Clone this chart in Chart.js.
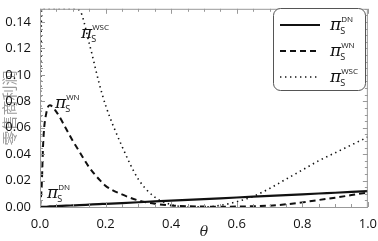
<!DOCTYPE html>
<html>
<head>
<meta charset="utf-8">
<script src="https://cdn.jsdelivr.net/npm/chart.js@4"></script>
<style>
  html, body { margin: 0; padding: 0; background: #fff; }
  #wrap { width: 378px; height: 241px; }
</style>
</head>
<body>
<div id="wrap"><canvas id="profitChart"></canvas></div>
<script>
// theta values and retailer profit curves
const theta = [0, 0.005, 0.01, 0.02, 0.03, 0.05, 0.08, 0.1, 0.12, 0.15, 0.18, 0.2, 0.25, 0.3, 0.35, 0.4,
    0.45, 0.5, 0.55, 0.6, 0.65, 0.7, 0.75, 0.8, 0.85, 0.9, 0.95, 1.0];
const profitDN = [0, 0.0001, 0.0001, 0.0002, 0.0004, 0.0006, 0.001, 0.0012, 0.0014, 0.0018, 0.0022, 0.0024,
    0.003, 0.0036, 0.0042, 0.0048, 0.0054, 0.006, 0.0066, 0.0072, 0.0078, 0.0084, 0.009, 0.0096, 0.0102,
    0.0108, 0.0114, 0.012];
const profitWN = [0, 0.015, 0.05, 0.072, 0.077, 0.072, 0.059, 0.05, 0.042, 0.03, 0.021, 0.016, 0.0095,
    0.005, 0.0025, 0.0012, 0.0006, 0.0003, 0.0002, 0.0003, 0.0006, 0.001, 0.002, 0.0035, 0.0053, 0.007,
    0.009, 0.011];
// WSC runs along the top of the frame (0.15) before it falls
const profitWSC = [0, 0.15, 0.15, 0.15, 0.15, 0.15, 0.15, 0.15, 0.149, 0.124, 0.094, 0.077, 0.046, 0.021,
    0.0075, 0.0018, 0.0002, 0.0001, 0.0012, 0.004, 0.008, 0.014, 0.021, 0.028, 0.035, 0.041, 0.047, 0.053];
const xTicks = [0, 0.2, 0.4, 0.6, 0.8, 1.0];
const yTicks = [0, 0.02, 0.04, 0.06, 0.08, 0.10, 0.12, 0.14];

const seriesNames = ['DN', 'WN', 'WSC'];
const dashes = [[], [6, 4], [1.4, 3.6]];
const widths = [2.2, 2, 1.6];

function pts(ys) {
    return theta.map((t, i) => ({ x: t, y: ys[i] }));
}

// draws pi_S^X as canvas text
function drawPi(ctx, x, y, sup) {
    ctx.save();
    ctx.fillStyle = '#111';
    ctx.textBaseline = 'alphabetic';
    ctx.textAlign = 'left';
    ctx.font = 'italic 17px "DejaVu Serif"';
    ctx.fillText('π', x, y);
    const w = ctx.measureText('π').width;
    ctx.font = '9px "Open Sans"';
    ctx.fillText('S', x + w - 1, y + 4);
    ctx.font = '8px "Open Sans"';
    ctx.fillText(sup, x + w, y - 8);
    ctx.restore();
}

const framePlugin = {
    id: 'frame',
    afterDatasetsDraw(chart) {
        const { ctx, chartArea: a, scales } = chart;
        ctx.save();
        ctx.strokeStyle = '#999';
        ctx.lineWidth = 1;
        ctx.strokeRect(a.left + 0.5, a.top + 0.5, a.right - a.left - 1, a.bottom - a.top);
        ctx.beginPath();
        for (let v = 0; v <= 1.0001; v += 0.05) {
            const px = Math.round(scales.x.getPixelForValue(v)) + 0.5;
            const len = Math.abs(v * 5 - Math.round(v * 5)) < 1e-6 ? 5 : 3;
            ctx.moveTo(px, a.bottom); ctx.lineTo(px, a.bottom - len);
            ctx.moveTo(px, a.top); ctx.lineTo(px, a.top + len);
        }
        for (let v = 0; v <= 0.1501; v += 0.005) {
            const py = Math.round(scales.y.getPixelForValue(v)) + 0.5;
            const len = Math.abs(v * 50 - Math.round(v * 50)) < 1e-6 ? 5 : 3;
            ctx.moveTo(a.left, py); ctx.lineTo(a.left + len, py);
            ctx.moveTo(a.right, py); ctx.lineTo(a.right - len, py);
        }
        ctx.stroke();
        ctx.restore();

        // curve labels
        drawPi(ctx, 81, 38, 'WSC');
        drawPi(ctx, 55, 108, 'WN');
        drawPi(ctx, 47, 198, 'DN');

        // legend box
        ctx.save();
        ctx.fillStyle = '#fff';
        ctx.strokeStyle = '#555';
        ctx.lineWidth = 1;
        ctx.beginPath();
        ctx.roundRect(273.5, 8.5, 92, 82, 7);
        ctx.fill();
        ctx.stroke();
        const rows = [25, 51, 77];
        rows.forEach((ry, i) => {
            ctx.beginPath();
            ctx.setLineDash(dashes[i]);
            ctx.lineWidth = widths[i];
            ctx.strokeStyle = '#111';
            ctx.moveTo(280, ry);
            ctx.lineTo(320, ry);
            ctx.stroke();
            ctx.setLineDash([]);
            drawPi(ctx, 330, ry + 5, seriesNames[i]);
        });
        ctx.restore();
    }
};

const ctxProfit = document.getElementById('profitChart');
new Chart(ctxProfit, {
    type: 'line',
    data: {
        datasets: [
            { label: 'DN', data: pts(profitDN) },
            { label: 'WN', data: pts(profitWN) },
            { label: 'WSC', data: pts(profitWSC) }
        ].map((d, i) => Object.assign(d, {
            borderColor: '#111',
            borderWidth: widths[i],
            borderDash: dashes[i],
            pointRadius: 0,
            cubicInterpolationMode: 'monotone',
            fill: false
        }))
    },
    options: {
        responsive: true,
        maintainAspectRatio: false,
        animation: false,
        layout: { padding: { top: 4, right: 8, left: 0, bottom: 0 } },
        scales: {
            x: {
                type: 'linear',
                min: 0,
                max: 1,
                afterBuildTicks: s => { s.ticks = xTicks.map(v => ({ value: v })); },
                afterFit: s => { s.height = 34; },
                grid: { display: false },
                border: { display: false },
                ticks: {
                    padding: 1,
                    color: '#111',
                    font: { family: 'Open Sans', size: 13 },
                    callback: v => v.toFixed(1)
                },
                title: {
                    display: true,
                    text: 'θ',
                    color: '#222',
                    padding: { top: 0, bottom: 0 },
                    font: { family: 'DejaVu Serif', size: 14, style: 'italic' }
                }
            },
            y: {
                min: 0,
                max: 0.15,
                afterBuildTicks: s => { s.ticks = yTicks.map(v => ({ value: v })); },
                afterFit: s => { s.width = 40; },
                grid: { display: false },
                border: { display: false },
                ticks: {
                    padding: 1,
                    color: '#111',
                    font: { family: 'Open Sans', size: 13 },
                    callback: v => v.toFixed(2)
                },
                title: {
                    display: true,
                    text: '零售商利润',
                    color: '#999',
                    padding: 0,
                    font: { family: '"Noto Sans CJK SC"', size: 15 }
                }
            }
        },
        plugins: {
            legend: { display: false },
            tooltip: { enabled: false }
        }
    },
    plugins: [framePlugin]
});
</script>
</body>
</html>
